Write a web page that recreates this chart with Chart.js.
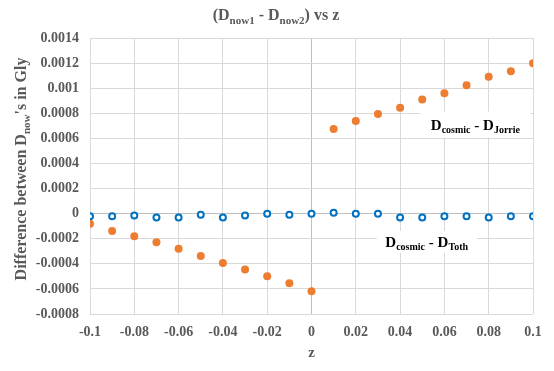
<!DOCTYPE html>
<html>
<head>
<meta charset="utf-8">
<script src="https://cdn.jsdelivr.net/npm/chart.js@4"></script>
<style>
  html, body { margin: 0; padding: 0; background: #fff; }
  #wrap { width: 554px; height: 371px; position: relative; }
</style>
</head>
<body>
<div id="wrap"><canvas id="c" width="554" height="371"></canvas></div>
<script>
// ---- data ----
const zValues = [-0.1, -0.09, -0.08, -0.07, -0.06, -0.05, -0.04, -0.03, -0.02, -0.01, 0,
                 0.01, 0.02, 0.03, 0.04, 0.05, 0.06, 0.07, 0.08, 0.09, 0.1];
const jorrieDiff = [-0.00008, -0.000138, -0.00018, -0.000228, -0.000279, -0.000337, -0.000393, -0.000446, -0.0005, -0.000555, -0.000619,
                    0.000674, 0.000738, 0.000794, 0.000845, 0.000909, 0.000959, 0.001023, 0.001092, 0.001134, 0.001198];
const tothDiff = [-0.00002, -0.00002, -0.000014, -0.00003, -0.00003, -0.000008, -0.00003, -0.000014, 0, -0.000008, 0,
                  0.000008, 0, 0, -0.00003, -0.00003, -0.00002, -0.00002, -0.00003, -0.00002, -0.00002];
const xTickRange = { min: -0.1, max: 0.1, step: 0.02 };
const yTickRange = { min: -0.0008, max: 0.0014, step: 0.0002 };
const titleParts = [["(D", false], ["now1", true], [" - D", false], ["now2", true], [") vs z", false]];
const yTitleParts = [["Difference between D", false], ["now", true], ["'s in Gly", false]];
const labelJorrie = [["D", false], ["cosmic", true], [" - D", false], ["Jorrie", true]];
const labelToth = [["D", false], ["cosmic", true], [" - D", false], ["Toth", true]];
const xTitle = "z";

const FONT = "'Liberation Serif', 'Times New Roman', serif";
const GRAY = "#595959";

function richWidth(ctx, parts, size, subSize) {
  let w = 0;
  for (const [t, sub] of parts) {
    ctx.font = "bold " + (sub ? subSize : size) + "px " + FONT;
    w += ctx.measureText(t).width;
  }
  return w;
}
function drawRich(ctx, parts, cx, cy, size, subSize, color) {
  const w = richWidth(ctx, parts, size, subSize);
  let x = cx - w / 2;
  ctx.fillStyle = color;
  ctx.textAlign = "left";
  ctx.textBaseline = "alphabetic";
  const base = cy + size * 0.33;
  for (const [t, sub] of parts) {
    ctx.font = "bold " + (sub ? subSize : size) + "px " + FONT;
    ctx.fillText(t, x, sub ? base + size * 0.22 : base);
    x += ctx.measureText(t).width;
  }
  return w;
}

const overlay = {
  id: "overlay",
  afterDraw(chart) {
    const ctx = chart.ctx;
    const xs = chart.scales.x, ys = chart.scales.y;
    ctx.save();
    // title
    drawRich(ctx, titleParts, 276, 15, 16, 11, GRAY);
    // y-axis title (rotated)
    ctx.save();
    ctx.translate(21, 169);
    ctx.rotate(-Math.PI / 2);
    drawRich(ctx, yTitleParts, 0, 0, 16, 11, GRAY);
    ctx.restore();
    // annotations
    const boxes = [
      [labelJorrie, xs.getPixelForValue(0.074), ys.getPixelForValue(0.00071), 110, 26],
      [labelToth, xs.getPixelForValue(0.052), ys.getPixelForValue(-0.000225), 100, 22]
    ];
    for (const [parts, cx, cy, bw, bh] of boxes) {
      ctx.fillStyle = "#ffffff";
      ctx.fillRect(cx - bw / 2, cy - bh / 2, bw, bh);
      drawRich(ctx, parts, cx, cy, 15, 10, "#000000");
    }
    ctx.restore();
  }
};

function fmt(v, d) { return String(parseFloat(Number(v).toFixed(d))); }

new Chart(document.getElementById("c"), {
  type: "scatter",
  data: {
    datasets: [
      {
        label: "Dcosmic - DToth",
        data: zValues.map((z, i) => ({ x: z, y: tothDiff[i] })),
        pointRadius: 3,
        pointBorderWidth: 2,
        borderColor: "#0070C0",
        backgroundColor: "#ffffff",
        pointBackgroundColor: "#ffffff",
        pointBorderColor: "#0070C0"
      },
      {
        label: "Dcosmic - DJorrie",
        data: zValues.map((z, i) => ({ x: z, y: jorrieDiff[i] })),
        pointRadius: 4,
        pointBorderWidth: 0,
        borderColor: "#ED7D31",
        backgroundColor: "#ED7D31",
        pointBackgroundColor: "#ED7D31"
      }
    ]
  },
  options: {
    responsive: false,
    animation: false,
    layout: { padding: { left: 0, right: 21, top: 38, bottom: 0 } },
    plugins: { legend: { display: false }, tooltip: { enabled: false }, title: { display: false } },
    scales: {
      x: {
        type: "linear",
        min: xTickRange.min, max: xTickRange.max,
        afterFit(s) { s.height = 57; },
        afterBuildTicks(s) {
          const t = [];
          for (let i = 0; i <= 10; i++) t.push({ value: +(xTickRange.min + i * xTickRange.step).toFixed(2) });
          s.ticks = t;
        },
        ticks: {
          color: GRAY, padding: 10, maxRotation: 0, autoSkip: false,
          font: { family: FONT, size: 14, weight: "bold" },
          callback: v => fmt(v, 2)
        },
        grid: {
          drawTicks: false,
          color: c => (c.tick && Math.abs(c.tick.value) < 1e-9) ? "#bfbfbf" : "#d9d9d9",
          lineWidth: 1
        },
        border: { display: false },
        title: {
          display: true, text: xTitle, color: GRAY,
          font: { family: FONT, size: 15, weight: "bold" },
          padding: { top: 0, bottom: 9 }
        }
      },
      y: {
        type: "linear",
        min: yTickRange.min, max: yTickRange.max,
        afterFit(s) { s.width = 90; },
        afterBuildTicks(s) {
          const t = [];
          for (let i = 0; i <= 11; i++) t.push({ value: +(yTickRange.min + i * yTickRange.step).toFixed(4) });
          s.ticks = t;
        },
        ticks: {
          color: GRAY, padding: 11, autoSkip: false,
          font: { family: FONT, size: 14, weight: "bold" },
          callback: v => fmt(v, 4)
        },
        grid: {
          drawTicks: false,
          color: c => (c.tick && Math.abs(c.tick.value) < 1e-9) ? "#bfbfbf" : "#d9d9d9",
          lineWidth: 1
        },
        border: { display: false }
      }
    }
  },
  plugins: [overlay]
});
</script>
</body>
</html>
